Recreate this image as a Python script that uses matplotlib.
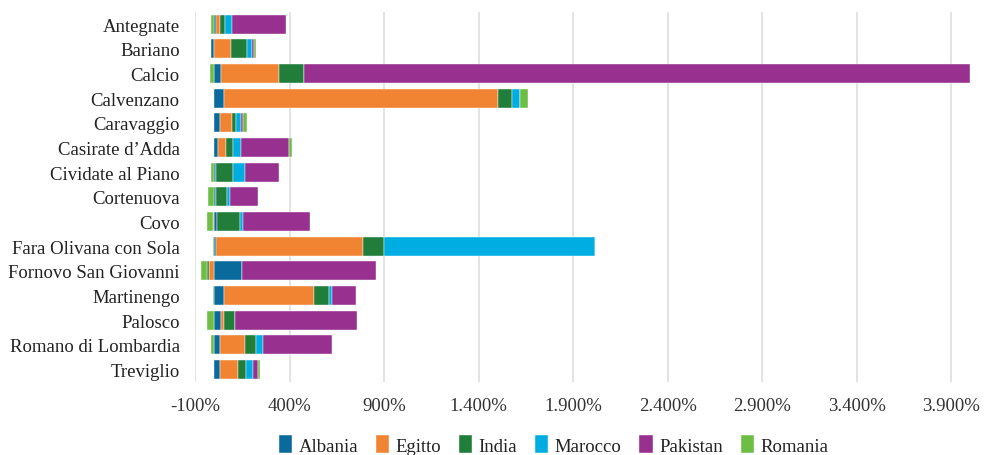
import numpy as np
import matplotlib
matplotlib.use("Agg")
import matplotlib.pyplot as plt
from matplotlib.ticker import FuncFormatter, FixedLocator

plt.rcParams["font.family"] = ["Liberation Serif", "DejaVu Serif"]

comuni = ["Antegnate", "Bariano", "Calcio", "Calvenzano", "Caravaggio",
          "Casirate d’Adda", "Cividate al Piano", "Cortenuova", "Covo",
          "Fara Olivana con Sola", "Fornovo San Giovanni", "Martinengo",
          "Palosco", "Romano di Lombardia", "Treviglio"]

albania = [13, -15, 35, 55, 32, 23, 9, 9, 17, 9, 146, 55, 37, 32, 32]
egitto = [18, 92, 309, 1447, 62, 41, 0, 0, -7, 778, -25, 474, 17, 132, 94]
india = [30, 85, 132, 76, 23, 39, 93, 61, 120, 111, -14, 79, 56, 56, 44]
marocco = [32, 24, 0, 39, 25, 39, 62, 16, 17, 1116, 0, 16, 0, 40, 35]
pakistan = [287, 13, 3523, 0, 14, 256, 182, 146, 353, 0, 710, 127, 645, 363, 30]
romania = [-15, 11, -23, 42, 18, 16, -16, -30, -32, -7, -30, -7, -39, -16, 9]

serie = ["Albania", "Egitto", "India", "Marocco", "Pakistan", "Romania"]
valori = [albania, egitto, india, marocco, pakistan, romania]
colori = ["#0B6A9C", "#F08433", "#217D3A", "#00ADE3", "#98308F", "#6DBE45"]

fig = plt.figure(figsize=(9.92, 4.56), dpi=100)
ax = fig.add_axes([0.1966, 0.1601, 0.7834, 0.8114])

y = np.arange(len(comuni))
pos_base = np.zeros(len(comuni))
neg_base = np.zeros(len(comuni))
handles = []
for nome, vals, col in zip(serie, valori, colori):
    v = np.array(vals, dtype=float)
    left = np.where(v >= 0, pos_base, neg_base)
    h = ax.barh(y, v, left=left, height=0.77, color=col, label=nome,
                edgecolor="#FFFFFF", linewidth=0.3, zorder=3)
    handles.append(h)
    pos_base += np.where(v >= 0, v, 0)
    neg_base += np.where(v < 0, v, 0)

ax.set_xlim(-100, 4010)
ax.set_ylim(len(comuni) - 0.5, -0.5)
ax.set_yticks(y)
ax.set_yticklabels(comuni, fontsize=13.5, color="#222222")

ticks = np.arange(-100, 4000, 500)
ax.xaxis.set_major_locator(FixedLocator(ticks))


def fmt_it(v, _):
    s = f"{int(round(v)):,}".replace(",", ".")
    return s + "%"


ax.xaxis.set_major_formatter(FuncFormatter(fmt_it))
ax.tick_params(axis="x", labelsize=13.5, labelcolor="#333333", length=0, pad=11)
ax.tick_params(axis="y", length=0, pad=11)
ax.grid(axis="x", color="#DEDEDE", linewidth=1.2, zorder=0)
for s in ax.spines.values():
    s.set_visible(False)

fig.legend(handles=handles, labels=serie, loc="center", ncol=6,
           bbox_to_anchor=(0.558, 0.022), frameon=False, fontsize=13.5,
           handlelength=0.7, handleheight=1.1, handletextpad=0.35,
           columnspacing=0.95, labelcolor="#222222")

fig.savefig("out.png", dpi=100)
